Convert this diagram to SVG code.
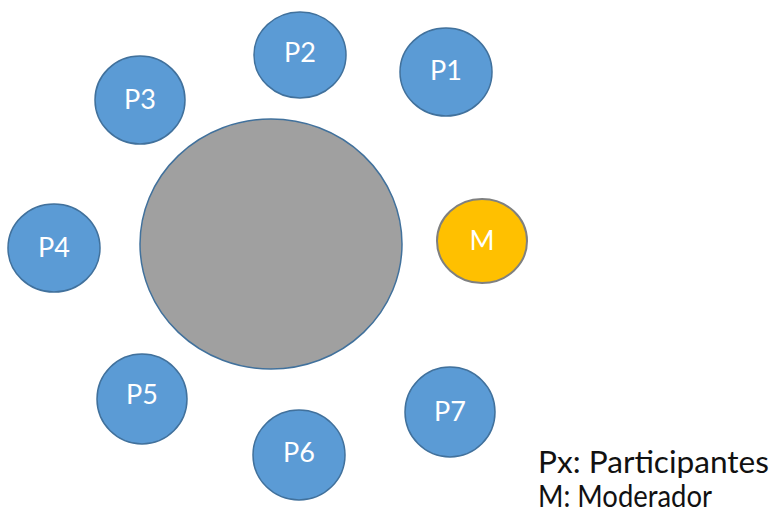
<svg xmlns="http://www.w3.org/2000/svg" width="771" height="516" viewBox="0 0 771 516">
<style>
.p{fill:#5B9BD5;stroke:#41719C;stroke-width:1.5}
.m{fill:#FFC000;stroke:#7F8080;stroke-width:2}
.t{fill:#A0A0A0;stroke:#41719C;stroke-width:1.5}
.l{font-family:Lato,"Open Sans",sans-serif;font-size:27px;fill:#FFFFFF;text-anchor:middle}
.g{font-family:Lato,"Open Sans",sans-serif;font-size:30px;fill:#111111}
</style>
<rect width="771" height="516" fill="#FFFFFF"/>
<g id="table"><ellipse class="t" cx="271" cy="244" rx="131" ry="125"/></g>
<g id="P1"><ellipse class="p" cx="446" cy="72" rx="46" ry="44"/><text class="l" x="446" y="80">P1</text></g>
<g id="P2"><ellipse class="p" cx="300" cy="55" rx="46" ry="43"/><text class="l" x="300" y="62">P2</text></g>
<g id="P3"><ellipse class="p" cx="140" cy="100" rx="45" ry="44"/><text class="l" x="140" y="109">P3</text></g>
<g id="P4"><ellipse class="p" cx="54" cy="248" rx="46" ry="44"/><text class="l" x="54" y="257">P4</text></g>
<g id="P5"><ellipse class="p" cx="142" cy="399" rx="45" ry="45"/><text class="l" x="142" y="404">P5</text></g>
<g id="P6"><ellipse class="p" cx="299" cy="455" rx="46" ry="45"/><text class="l" x="299" y="462">P6</text></g>
<g id="P7"><ellipse class="p" cx="450" cy="412" rx="45" ry="45"/><text class="l" x="450" y="421">P7</text></g>
<g id="M"><ellipse class="m" cx="482" cy="241" rx="45" ry="42"/><text class="l" x="482" y="250">M</text></g>
<g id="connectors"></g>
<g id="legend">
<text class="g" x="538" y="473" textLength="231" lengthAdjust="spacingAndGlyphs">Px: Participantes</text>
<text class="g" x="538" y="507" textLength="174" lengthAdjust="spacingAndGlyphs">M: Moderador</text>
</g>
</svg>
